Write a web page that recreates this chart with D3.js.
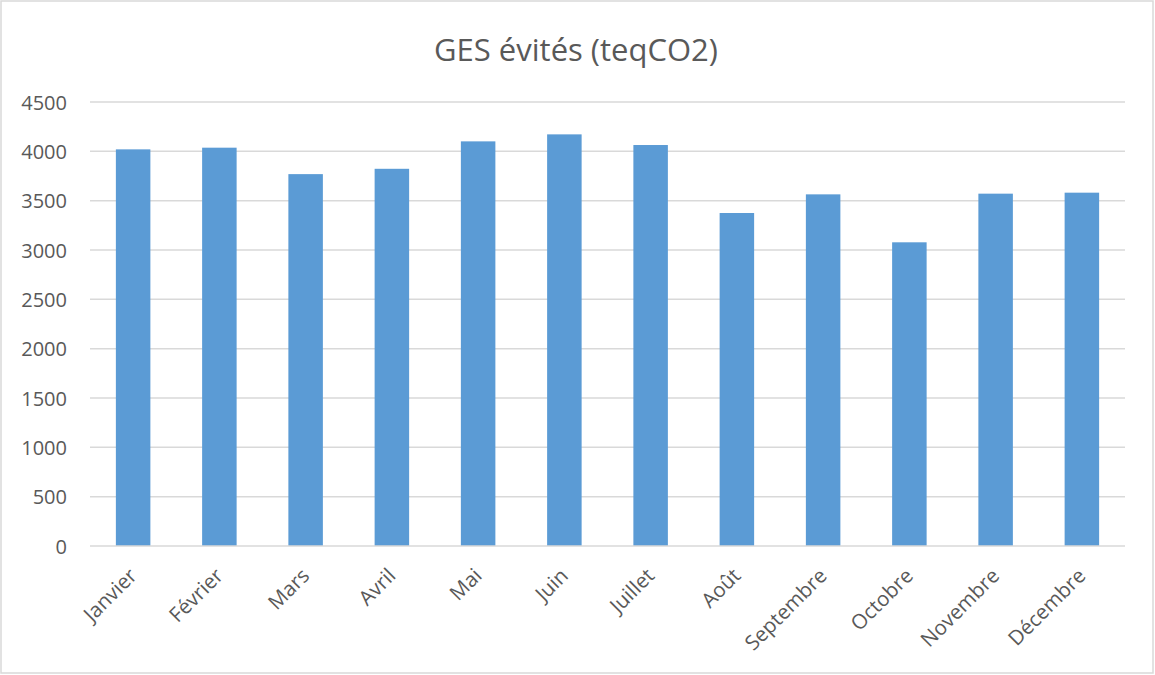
<!DOCTYPE html>
<html><head><meta charset="utf-8">
<script src="https://cdn.jsdelivr.net/npm/d3@7"></script>
<style>body{margin:0;background:#fff}svg{display:block}</style>
</head><body>
<svg id="c" width="1155" height="675"></svg>
<script>
const title = "GES évités (teqCO2)";
const categories = ["Janvier","Février","Mars","Avril","Mai","Juin","Juillet","Août","Septembre","Octobre","Novembre","Décembre"];
const values = [4020,4037,3769,3823,4101,4172,4064,3375,3564,3078,3571,3581];
const yTicks = [0,500,1000,1500,2000,2500,3000,3500,4000,4500];

const svg = d3.select("#c");
const font = "'Open Sans', sans-serif";
const textCol = "#595959";
const m = {left:90, right:1125, top:102, bottom:546};

svg.append("rect").attr("x",1).attr("y",1).attr("width",1152).attr("height",672)
  .attr("fill","#fff").attr("stroke","#d9d9d9").attr("stroke-width",1.5);

const x = d3.scaleBand().domain(categories).range([m.left,m.right]).padding(0);
const y = d3.scaleLinear().domain([0,4500]).range([m.bottom,m.top]);

svg.append("g").selectAll("line").data(yTicks.filter(t=>t>0)).join("line")
  .attr("x1",m.left).attr("x2",m.right)
  .attr("y1",d=>y(d)).attr("y2",d=>y(d))
  .attr("stroke","#d9d9d9").attr("stroke-width",1.5);

const bw = x.bandwidth()*0.4;
svg.append("g").selectAll("rect").data(values).join("rect")
  .attr("x",(d,i)=>x(categories[i])+x.bandwidth()/2-bw/2)
  .attr("width",bw)
  .attr("y",d=>y(d)).attr("height",d=>y(0)-y(d))
  .attr("fill","#5b9bd5");

svg.append("line").attr("x1",m.left).attr("x2",m.right)
  .attr("y1",y(0)).attr("y2",y(0)).attr("stroke","#d9d9d9").attr("stroke-width",1.5);

const yAxis = d3.axisLeft(y).tickValues(yTicks).tickFormat(d3.format("d")).tickSize(0).tickPadding(0);
const ya = svg.append("g").attr("transform",`translate(67,0)`).call(yAxis);
ya.select(".domain").remove();
ya.selectAll("text").attr("font-family",font).attr("font-size",20).attr("fill",textCol).attr("dy","0.35em");

const xAxis = d3.axisBottom(x).tickSize(0).tickPadding(0);
const xa = svg.append("g").attr("transform",`translate(0,${m.bottom})`).call(xAxis);
xa.select(".domain").remove();
xa.selectAll(".tick text")
  .attr("font-family",font).attr("font-size",20.5).attr("fill",textCol)
  .attr("text-anchor","end").attr("dy",0).attr("y",0)
  .attr("transform","translate(5,31) rotate(-45)");

svg.append("text").attr("x",576).attr("y",61).attr("text-anchor","middle")
  .attr("font-family",font).attr("font-size",31).attr("fill",textCol).text(title);
</script>
</body></html>
